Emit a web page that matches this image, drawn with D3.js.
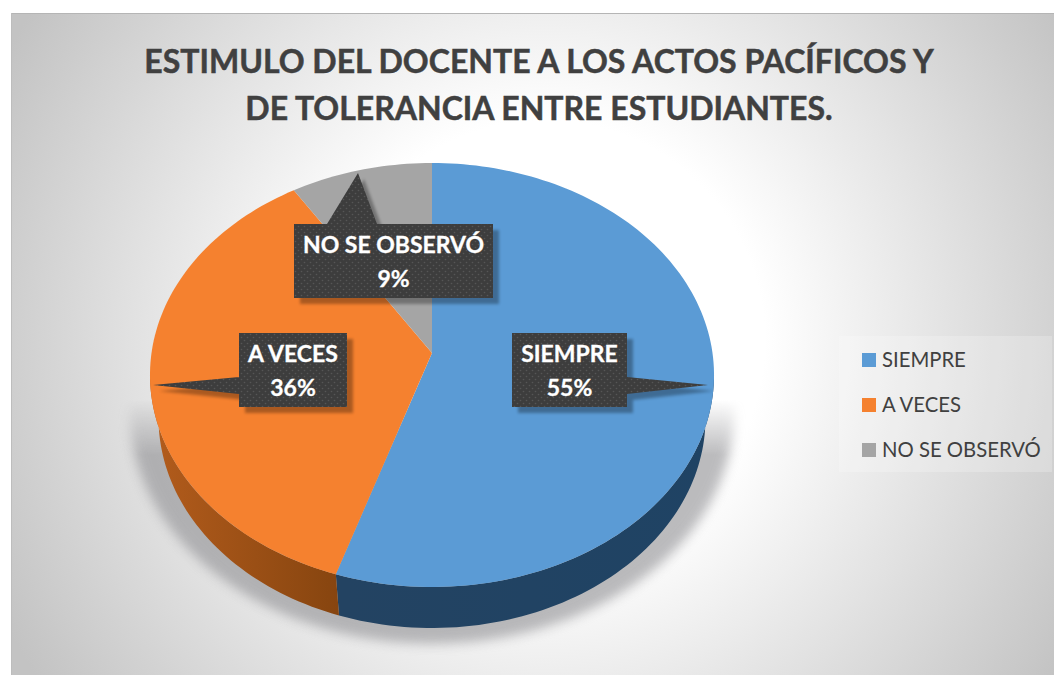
<!DOCTYPE html>
<meta charset="utf-8">

<!-- Load d3.js -->
<script src="https://cdn.jsdelivr.net/npm/d3@7"></script>

<style>
    html, body {
        margin: 0;
        padding: 0;
        background: #fff;
        overflow: hidden;
    }

    text {
        font-family: Lato, "Open Sans", Arial, sans-serif;
    }
</style>

<div id="my_dataviz"></div>

<script>

    // chart data
    var titleLines = ["ESTIMULO DEL DOCENTE A LOS ACTOS PACÍFICOS Y", "DE TOLERANCIA ENTRE ESTUDIANTES."];
    var categories = ["SIEMPRE", "A VECES", "NO SE OBSERVÓ"];
    var values = [55, 36, 9];
    var topColors = ["#5b9bd5", "#f5812f", "#a5a5a5"];

    var width = 1054, height = 675;

    var svg = d3.select("#my_dataviz")
        .append("svg")
        .attr("width", width)
        .attr("height", height)
        .style("display", "block");

    var defs = svg.append("defs");

    // background gradient, white in the middle and grey in the corners
    var bg = defs.append("radialGradient")
        .attr("id", "bgGrad")
        .attr("gradientUnits", "userSpaceOnUse")
        .attr("cx", 545).attr("cy", 340).attr("r", 610);
    bg.append("stop").attr("offset", "0.36").attr("stop-color", "#ffffff");
    bg.append("stop").attr("offset", "1").attr("stop-color", "#c3c3c3");

    var sideOrange = defs.append("linearGradient")
        .attr("id", "sideOrange")
        .attr("gradientUnits", "userSpaceOnUse")
        .attr("x1", 150).attr("x2", 345).attr("y1", 0).attr("y2", 0);
    sideOrange.append("stop").attr("offset", "0").attr("stop-color", "#b35c1c");
    sideOrange.append("stop").attr("offset", "1").attr("stop-color", "#85440f");

    var sideBlue = defs.append("linearGradient")
        .attr("id", "sideBlue")
        .attr("gradientUnits", "userSpaceOnUse")
        .attr("x1", 345).attr("x2", 714).attr("y1", 0).attr("y2", 0);
    sideBlue.append("stop").attr("offset", "0").attr("stop-color", "#234362");
    sideBlue.append("stop").attr("offset", "1").attr("stop-color", "#1f4364");

    defs.append("filter").attr("id", "blurShadow")
        .attr("x", "-10%").attr("y", "-10%").attr("width", "120%").attr("height", "120%")
        .append("feGaussianBlur").attr("stdDeviation", 6);

    defs.append("filter").attr("id", "blurBox")
        .attr("x", "-10%").attr("y", "-10%").attr("width", "120%").attr("height", "120%")
        .append("feGaussianBlur").attr("stdDeviation", 1.5);

    // the ground shadow only shows from the middle of the pie downwards
    var fade = defs.append("linearGradient")
        .attr("id", "fadeGrad")
        .attr("gradientUnits", "userSpaceOnUse")
        .attr("x1", 0).attr("x2", 0).attr("y1", 400).attr("y2", 455);
    fade.append("stop").attr("offset", "0").attr("stop-color", "#000");
    fade.append("stop").attr("offset", "1").attr("stop-color", "#fff");
    defs.append("mask").attr("id", "fadeMask")
        .attr("maskUnits", "userSpaceOnUse")
        .attr("x", 0).attr("y", 0).attr("width", width).attr("height", height)
        .append("rect").attr("width", width).attr("height", height).attr("fill", "url(#fadeGrad)");

    // dotted texture of the callouts
    var dots = defs.append("pattern")
        .attr("id", "dots")
        .attr("patternUnits", "userSpaceOnUse")
        .attr("width", 6).attr("height", 6);
    dots.append("rect").attr("width", 6).attr("height", 6).attr("fill", "#3d3d3d");
    dots.append("circle").attr("cx", 1.5).attr("cy", 1.5).attr("r", 0.8).attr("fill", "#565656");
    dots.append("circle").attr("cx", 4.5).attr("cy", 4.5).attr("r", 0.8).attr("fill", "#565656");

    // chart area
    svg.append("rect")
        .attr("x", 11).attr("y", 13)
        .attr("width", width - 11).attr("height", height - 13)
        .attr("fill", "url(#bgGrad)");
    svg.append("line")
        .attr("x1", 11).attr("x2", width).attr("y1", 13.5).attr("y2", 13.5)
        .attr("stroke", "#b5b5b5");
    svg.append("line")
        .attr("x1", 11.5).attr("x2", 11.5).attr("y1", 13).attr("y2", height)
        .attr("stroke", "#bdbdbd");

    // title
    svg.append("g")
        .selectAll("text")
        .data(titleLines)
        .enter().append("text")
        .attr("x", 539)
        .attr("y", function (d, i) { return 73 + i * 47; })
        .attr("text-anchor", "middle")
        .attr("font-size", 32)
        .attr("font-weight", 700)
        .attr("fill", "#404040")
        .attr("stroke", "#404040")
        .attr("stroke-width", 0.5)
        .text(function (d) { return d; });

    // pie on a tilted disc: u goes right, v goes away from the viewer
    var tilt = 0.1038;
    var x = d3.scaleLinear().domain([-1, 1]).range([432 - 280.5, 432 + 280.5]);
    var y = d3.scaleLinear().domain([-1, 1]).range([353 + 209.7, 353 - 209.7]);

    function project(angle, r, drop) {
        var u = r * Math.sin(angle), v = r * Math.cos(angle);
        var s = 1 / (1 + tilt * v);
        return [x(u * s), y(v * s) + (drop || 0) * s];
    }

    function arcPoints(a0, a1, r, drop) {
        var n = Math.max(2, Math.ceil((a1 - a0) * 40));
        return d3.range(n + 1).map(function (i) {
            return project(a0 + (a1 - a0) * i / n, r, drop);
        });
    }

    var line = d3.line();
    var slices = d3.pie().sort(null).value(function (d) { return d; })(values);

    // ground shadow
    svg.append("g")
        .attr("mask", "url(#fadeMask)")
        .append("path")
        .attr("d", line(arcPoints(0, 2 * Math.PI, 1.07, 34)) + "Z")
        .attr("fill", "#8e8e92")
        .attr("opacity", 0.6)
        .attr("filter", "url(#blurShadow)");

    // outer wall, only the part of each slice that faces the viewer.
    // the bottom rim is further from the camera so it comes out a bit smaller
    var frontStart = Math.acos(-tilt);
    var frontEnd = 2 * Math.PI - frontStart;
    var sideFills = ["url(#sideBlue)", "url(#sideOrange)", "#6a6a6a"];
    var rimScale = 0.97, rimDrop = 43.9;

    svg.append("g")
        .selectAll("path")
        .data(slices.filter(function (d) { return d.endAngle > frontStart && d.startAngle < frontEnd; }))
        .enter().append("path")
        .attr("d", function (d) {
            var a0 = Math.max(d.startAngle, frontStart), a1 = Math.min(d.endAngle, frontEnd);
            return line(arcPoints(a0, a1, 1, 0).concat(arcPoints(a0, a1, rimScale, rimDrop).reverse())) + "Z";
        })
        .attr("fill", function (d) { return sideFills[d.index]; });

    // top face
    svg.append("g")
        .selectAll("path")
        .data(slices)
        .enter().append("path")
        .attr("d", function (d) {
            return line([project(0, 0)].concat(arcPoints(d.startAngle, d.endAngle, 1, 0))) + "Z";
        })
        .attr("fill", function (d) { return topColors[d.index]; });

    // callouts, same order as the categories
    var callouts = [
        { box: [512, 333, 115, 74], pointer: [[627, 377], [708, 385], [627, 394]] },
        { box: [239, 333, 108, 74], pointer: [[239, 377], [153, 385], [239, 394]] },
        { box: [294, 224, 199, 74], pointer: [[327, 224], [358, 173], [377, 224]] }
    ];

    function calloutPath(c) {
        return "M" + c.box[0] + "," + c.box[1] + "h" + c.box[2] + "v" + c.box[3] + "h" + (-c.box[2]) + "Z" +
            "M" + c.pointer.join("L") + "Z";
    }

    var labels = svg.append("g")
        .selectAll("g")
        .data(categories)
        .enter().append("g");

    labels.append("path")
        .attr("d", function (d, i) { return calloutPath(callouts[i]); })
        .attr("transform", "translate(6,6)")
        .attr("fill", "#000")
        .attr("opacity", 0.3)
        .attr("filter", "url(#blurBox)");

    labels.append("path")
        .attr("d", function (d, i) { return calloutPath(callouts[i]); })
        .attr("fill", "url(#dots)");

    labels.append("text")
        .attr("x", function (d, i) { return callouts[i].box[0] + callouts[i].box[2] / 2; })
        .attr("y", function (d, i) { return callouts[i].box[1] + 29; })
        .attr("text-anchor", "middle")
        .attr("font-size", 23)
        .attr("font-weight", 700)
        .attr("fill", "#fff")
        .attr("stroke", "#fff")
        .attr("stroke-width", 0.3)
        .text(function (d) { return d; });

    labels.append("text")
        .attr("x", function (d, i) { return callouts[i].box[0] + callouts[i].box[2] / 2; })
        .attr("y", function (d, i) { return callouts[i].box[1] + 63; })
        .attr("text-anchor", "middle")
        .attr("font-size", 23)
        .attr("font-weight", 700)
        .attr("fill", "#fff")
        .attr("stroke", "#fff")
        .attr("stroke-width", 0.3)
        .text(function (d, i) { return values[i] + "%"; });

    // legend
    var legendY = d3.scalePoint().domain(categories).range([360, 450]);

    svg.append("rect")
        .attr("x", 839).attr("y", 336)
        .attr("width", 213).attr("height", 136)
        .attr("fill", "#fff")
        .attr("opacity", 0.22);

    var legend = svg.append("g")
        .selectAll("g")
        .data(categories)
        .enter().append("g")
        .attr("transform", function (d) { return "translate(0," + legendY(d) + ")"; });

    legend.append("rect")
        .attr("x", 862).attr("y", -7)
        .attr("width", 14).attr("height", 14)
        .attr("fill", function (d, i) { return topColors[i]; });

    legend.append("text")
        .attr("x", 882).attr("y", 7)
        .attr("font-size", 20.3)
        .attr("fill", "#404040")
        .text(function (d) { return d; });

</script>
